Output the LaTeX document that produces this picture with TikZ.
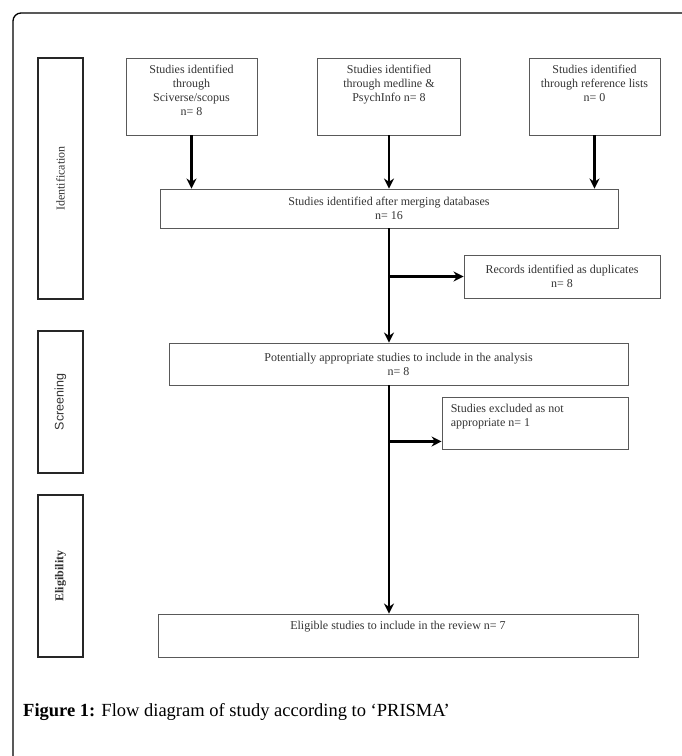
\documentclass[tikz,border=0pt]{standalone}
\usepackage{fontspec}
\setmainfont{Liberation Serif}
\newfontfamily\sanslbl{Liberation Sans}
\usetikzlibrary{arrows.meta, positioning, calc}

\begin{document}
\begin{tikzpicture}[x=1pt, y=-1pt,
  every node/.style={font=\fontsize{12}{14}\selectfont, text=black!80},
  >={Stealth[length=10pt, width=10pt]},
  box/.style={draw=black!65, line width=0.9pt, inner sep=0pt},
  boxtext/.style={align=center, inner sep=0pt},
  phase/.style={draw=black!85, line width=1.8pt, rotate=90, minimum height=45, inner sep=0pt},
  arrow/.style={->, line width=2.7pt, black}
]
\useasboundingbox (0,0) rectangle (681,756);
% page frame
\draw[line width=1.3pt, rounded corners=8pt] (13,760) -- (13,13) -- (690,13);

% phases
\node[phase, minimum width=241] (ident) at (60.5,178.5) {Identification};
\node[phase, minimum width=142, font=\sanslbl\fontsize{12.5}{14}\selectfont] (screen) at (60.5,402) {Screening};
\node[phase, minimum width=162, font=\fontsize{12}{14}\selectfont\bfseries] (eligib) at (60.5,576) {Eligibility};

% sources
\node[box, minimum width=131, minimum height=77] (src1) at (191.5,96.5) {};
\node[box, minimum width=143, minimum height=77] (src2) at (389,96.5) {};
\node[box, minimum width=131, minimum height=77] (src3) at (594.5,96.5) {};
\node[boxtext, below=7pt of src1.north] (src1t) {Studies identified\\through\\Sciverse/scopus\\n= 8};
\node[boxtext, below=7pt of src2.north] (src2t) {Studies identified\\through medline \&\\PsychInfo n= 8};
\node[boxtext, below=7pt of src3.north] (src3t) {Studies identified\\through reference lists\\n= 0};

\node[box, minimum width=458, minimum height=39, align=center] (merge) at (389,208.5)
  {Studies identified after merging databases\\n= 16};
\node[box, minimum width=196, minimum height=43, align=center] (dup) at (562,276.5)
  {Records identified as duplicates\\n= 8};
\node[box, minimum width=459, minimum height=42, align=center] (potential) at (398.5,364)
  {Potentially appropriate studies to include in the analysis\\n= 8};
\node[box, minimum width=186, minimum height=52] (excl) at (535,423) {};
\node[boxtext, align=left, anchor=north west] (exclt) at ($(excl.north west)+(9,7)$)
  {Studies excluded as not\\appropriate n= 1};
\node[box, minimum width=480, minimum height=43] (elig) at (398,635.5) {};
\node[boxtext, below=7pt of elig.north] (eligt) {Eligible studies to include in the review n= 7};

\coordinate (exclin) at ($(excl.south west)+(0,-8)$);

\draw[arrow] (src1) -- (src1 |- merge.north);
\draw[arrow] (src2) -- (src2 |- merge.north);
\draw[arrow] (src3) -- (src3 |- merge.north);
\draw[arrow] (merge.south) -- (merge.south |- potential.north);
\draw[arrow] (merge.south |- dup.west) -- (dup.west);
\draw[arrow] (merge.south |- potential.south) -- (merge.south |- elig.north);
\draw[arrow] (merge.south |- exclin) -- (exclin);

\node[anchor=base west, inner sep=0pt, text=black, font=\fontsize{18.5}{22}\selectfont] (caption) at (23,716)
  {\textbf{Figure 1:} Flow diagram of study according to ‘PRISMA’};
\end{tikzpicture}
\end{document}
